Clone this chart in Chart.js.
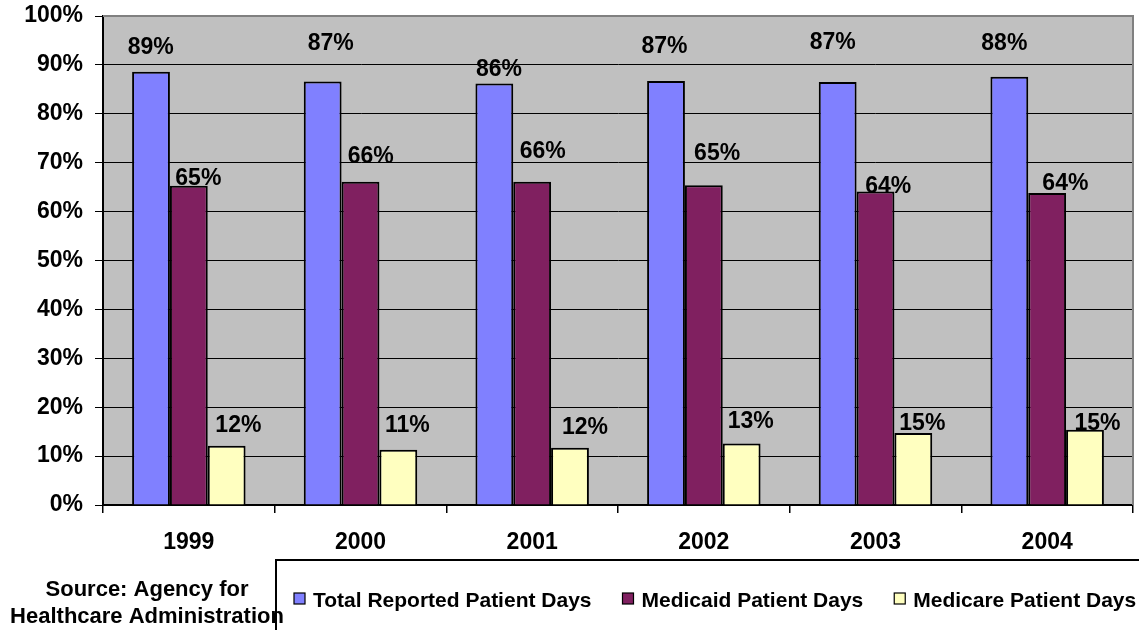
<!DOCTYPE html>
<html><head><meta charset="utf-8">
<script src="https://cdn.jsdelivr.net/npm/chart.js@4.4.1/dist/chart.umd.min.js"></script>
<style>html,body{margin:0;padding:0;background:#fff;}#wrap{width:1139px;height:630px;position:relative;}</style>
</head><body><div id="wrap"><canvas id="c" width="1139" height="630"></canvas></div>
<script>
// ---- data ----
const categories = ['1999', '2000', '2001', '2002', '2003', '2004'];
const totalReported = [88.6, 86.6, 86.2, 86.7, 86.5, 87.6];
const medicaid = [65.3, 66.1, 66.1, 65.4, 64.1, 63.8];
const medicare = [12.1, 11.3, 11.7, 12.6, 14.7, 15.4];
const seriesNames = ['Total Reported Patient Days', 'Medicaid Patient Days', 'Medicare Patient Days'];
const yTickValues = [0, 10, 20, 30, 40, 50, 60, 70, 80, 90, 100];
const sourceLines = ['Source: Agency for', 'Healthcare Administration'];

// ---- styles ----
const colors = ['#8080FF', '#802060', '#FFFFC0'];
const FONT = 'Liberation Sans, Arial, Helvetica, sans-serif';
// label nudges (dx, dy relative to bar top) mimicking hand-placed labels
const labelNudges = [
  [[-0.3,-26],[8,-39.8],[4.6,-16],[-1.6,-36.3],[-5,-41.6],[-5,-35]],
  [[9.5,-9],[10.2,-26.7],[10.5,-32.4],[13.3,-33.6],[12.7,-6.7],[18.2,-11.6]],
  [[11.7,-21.7],[9,-25.7],[15,-21.7],[9,-24],[9,-11.6],[12.5,-7.4]]
];

Chart.defaults.font.family = FONT;
Chart.defaults.color = '#000';

const plotBg = {
  id: 'plotBg',
  beforeDraw(chart) {
    const {ctx, chartArea: a} = chart;
    ctx.save();
    ctx.fillStyle = '#C0C0C0';
    ctx.fillRect(a.left, a.top, a.right - a.left, a.bottom - a.top);
    ctx.restore();
  },
  beforeDatasetsDraw(chart) {
    const {ctx, chartArea: a} = chart;
    ctx.save();
    ctx.strokeStyle = '#808080';
    ctx.lineWidth = 2;
    ctx.beginPath();
    ctx.moveTo(a.left, a.top);
    ctx.lineTo(a.right, a.top);
    ctx.lineTo(a.right, a.bottom);
    ctx.stroke();
    ctx.restore();
  }
};

const dataLabels = {
  id: 'dataLabels',
  afterDatasetsDraw(chart) {
    const ctx = chart.ctx;
    ctx.save();
    ctx.font = 'bold 23px ' + FONT;
    ctx.fillStyle = '#000';
    ctx.textAlign = 'center';
    ctx.textBaseline = 'alphabetic';
    chart.data.datasets.forEach((ds, i) => {
      const meta = chart.getDatasetMeta(i);
      meta.data.forEach((bar, j) => {
        const n = labelNudges[i][j];
        const txt = Math.round(ds.data[j]) + '%';
        ctx.fillText(txt, bar.x + n[0], bar.y + n[1] + 8.2);
      });
    });
    ctx.restore();
  }
};

const customLegend = {
  id: 'customLegend',
  afterDraw(chart) {
    const ctx = chart.ctx;
    ctx.save();
    // source text
    ctx.fillStyle = '#000';
    ctx.font = 'bold 22px ' + FONT;
    ctx.textAlign = 'center';
    ctx.textBaseline = 'alphabetic';
    ctx.fillText(sourceLines[0], 147, 596);
    ctx.fillText(sourceLines[1], 147, 623);
    // legend box
    ctx.strokeStyle = '#000';
    ctx.lineWidth = 2;
    ctx.beginPath();
    ctx.moveTo(276, 640);
    ctx.lineTo(276, 560);
    ctx.lineTo(1145, 560);
    ctx.stroke();
    // entries
    ctx.font = 'bold 21px ' + FONT;
    ctx.textAlign = 'left';
    let x = 294;
    const cy = 599;
    chart.data.datasets.forEach((ds, i) => {
      ctx.fillStyle = ds.backgroundColor;
      ctx.fillRect(x, cy - 6, 11, 11);
      ctx.lineWidth = 1.2;
      ctx.strokeStyle = '#000';
      ctx.strokeRect(x, cy - 6, 11, 11);
      ctx.fillStyle = '#000';
      ctx.fillText(ds.label, x + 19, cy + 7.5);
      x += 19 + ctx.measureText(ds.label).width + 31;
    });
    ctx.restore();
  }
};

new Chart(document.getElementById('c'), {
  type: 'bar',
  data: {
    labels: categories,
    datasets: [
      {label: seriesNames[0], data: totalReported, backgroundColor: colors[0]},
      {label: seriesNames[1], data: medicaid, backgroundColor: colors[1]},
      {label: seriesNames[2], data: medicare, backgroundColor: colors[2]}
    ].map(d => Object.assign(d, {borderColor: '#000', borderWidth: 2, barPercentage: 1, categoryPercentage: 0.661}))
  },
  options: {
    responsive: false,
    animation: false,
    devicePixelRatio: 1,
    layout: {padding: {top: 16, right: 6, left: 0, bottom: 0}},
    plugins: {legend: {display: false}, tooltip: {enabled: false}},
    scales: {
      x: {
        grid: {display: true, drawOnChartArea: false, drawTicks: true, tickLength: 8, color: '#000', lineWidth: 1.5, offset: true},
        border: {display: true, color: '#000', width: 2},
        ticks: {font: {size: 23, weight: 'bold'}, color: '#000', padding: 16, maxRotation: 0},
        afterFit(s) { s.height = 125; s.paddingLeft = 0; s.paddingRight = 0; }
      },
      y: {
        min: 0, max: 100,
        afterBuildTicks(s) { s.ticks = yTickValues.map(v => ({value: v})); },
        grid: {
          color: c => (c.tick && c.tick.value === 100) ? 'rgba(0,0,0,0)' : '#000',
          lineWidth: 1,
          tickColor: '#000',
          tickLength: 8,
          drawTicks: true
        },
        border: {display: true, color: '#000', width: 2},
        ticks: {font: {size: 23, weight: 'bold'}, color: '#000', padding: 12, callback: v => v + '%'},
        afterFit(s) { s.width = 103; s.paddingTop = 0; s.paddingBottom = 0; }
      }
    }
  },
  plugins: [plotBg, dataLabels, customLegend]
});
</script>
</body></html>
